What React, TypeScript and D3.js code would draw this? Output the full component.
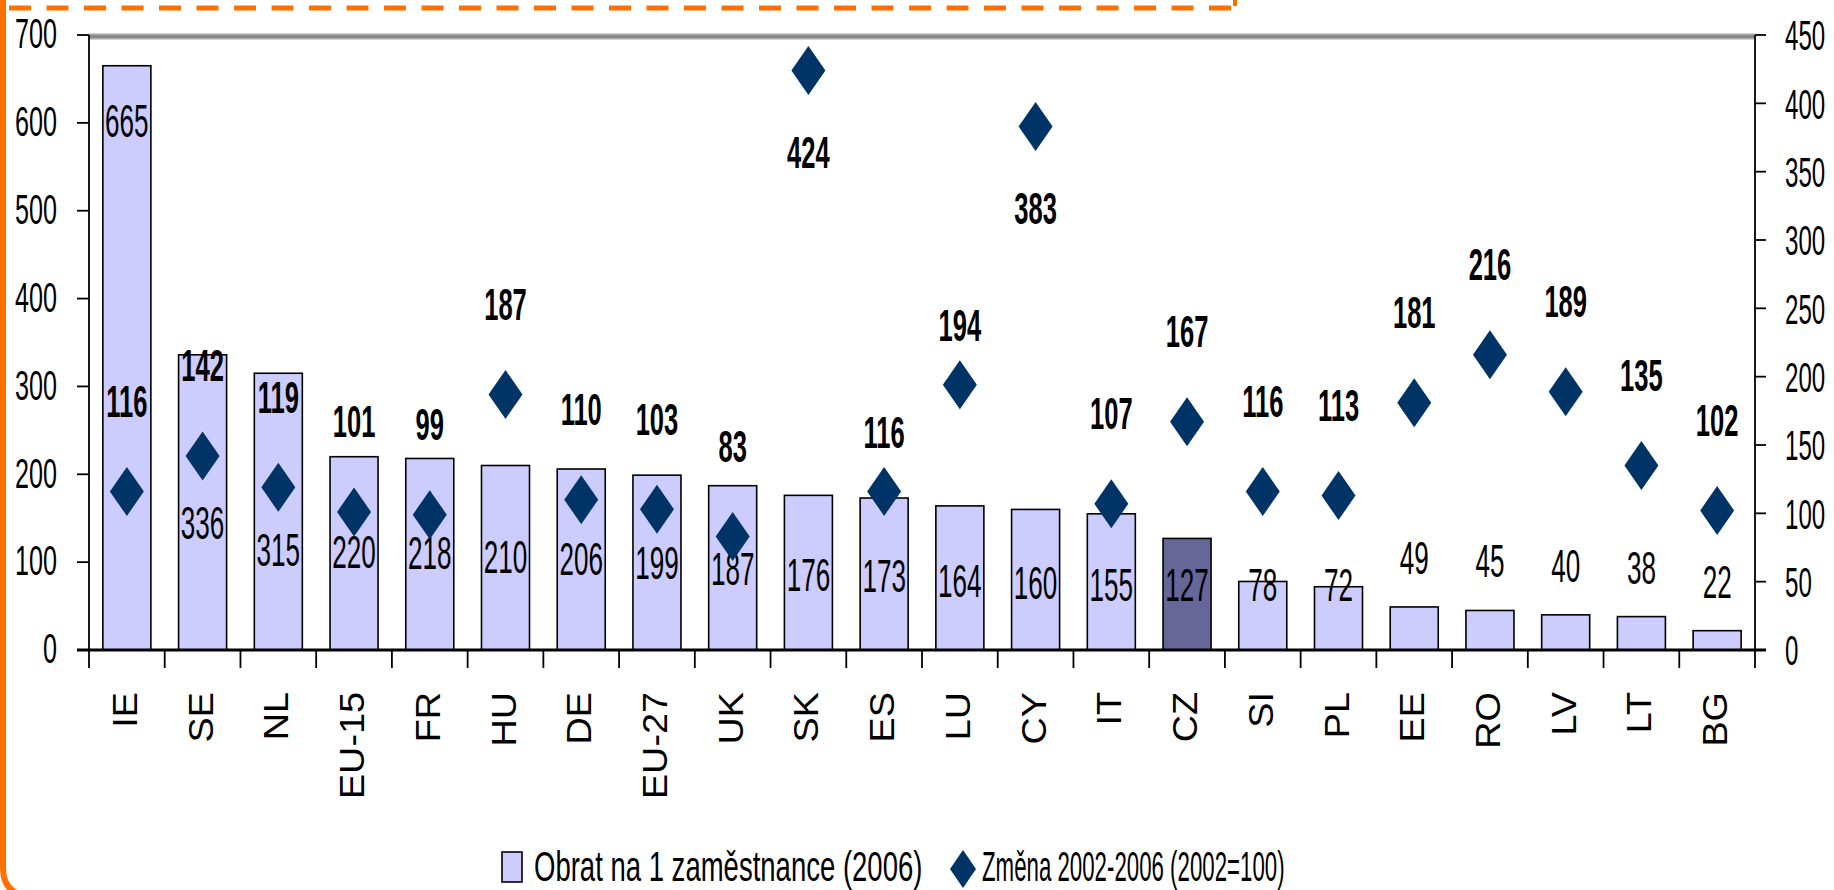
import React from "react";
import * as d3 from "d3";

const categories = ["IE","SE","NL","EU-15","FR","HU","DE","EU-27","UK","SK","ES","LU","CY","IT","CZ","SI","PL","EE","RO","LV","LT","BG"];
const turnover = [665,336,315,220,218,210,206,199,187,176,173,164,160,155,127,78,72,49,45,40,38,22];
const change = [116,142,119,101,99,187,110,103,83,424,116,194,383,107,167,116,113,181,216,189,135,102];
const leftTicks = [0,100,200,300,400,500,600,700];
const rightTicks = [0,50,100,150,200,250,300,350,400,450];
const highlight = "CZ";
const nearLabels = new Set(["ES","LU"]);
const legendLabels = ["Obrat na 1 zaměstnance (2006)", "Změna 2002-2006 (2002=100)"];

const W = 1834, H = 890;
const FONT = "'Liberation Sans', Arial, Helvetica, sans-serif";
const X0 = 89, X1 = 1755, Y0 = 650, YT = 35;

function SText({ x, y, text, size, sx, anchor = "middle", weight = "normal" }: any) {
  return (
    <text transform={`translate(${x},${y}) scale(${sx},1)`} textAnchor={anchor}
      dominantBaseline="central" fontFamily={FONT} fontSize={size} fontWeight={weight} fill="#000">
      {text}
    </text>
  );
}

export default function App() {
  const x = d3.scaleBand<string>().domain(categories).range([X0, X1]).padding(0);
  const yL = d3.scaleLinear().domain([0, 700]).range([Y0, YT]);
  const yR = d3.scaleLinear().domain([0, 450]).range([Y0, YT]);
  const bw = x.bandwidth() * 0.634;
  const cx = (c: string) => (x(c) as number) + x.bandwidth() / 2;
  const diamond = (w: number, h: number) => `M0,${-h / 2}L${w / 2},0L0,${h / 2}L${-w / 2},0Z`;

  const barLabelY = (v: number) => {
    if (v > 500) return yL(v) + 55;
    if (v < 60) return yL(v) - 49;
    if (v > 330) return yL(v) + 168;
    return yL(Math.max(74, Math.min(114, 0.6 * v - 20)));
  };

  return (
    <svg width={W} height={H} style={{ position: "absolute", left: 0, top: 0, background: "#fff" }}>
      <rect x={0} y={0} width={W} height={H} fill="#fff" />
      {/* orange frame */}
      <path d="M3,0 L3,868 Q3,892 26,896" fill="none" stroke="#FF7000" strokeWidth={6} />
      <line x1={9} x2={1236} y1={8} y2={8} stroke="#FF7000" strokeWidth={5} strokeDasharray="22,15.5" />
      <line x1={1235} x2={1235} y1={0} y2={6} stroke="#FF7000" strokeWidth={4} />

      {/* top plot border */}
      <line x1={X0} x2={X1} y1={36.5} y2={36.5} stroke="#d0d0d0" strokeWidth={7} />
      <line x1={X0} x2={X1} y1={36.5} y2={36.5} stroke="#888" strokeWidth={4} />

      {/* bars */}
      {categories.map((c, i) => (
        <rect key={c} x={cx(c) - bw / 2} y={yL(turnover[i])} width={bw} height={Y0 - yL(turnover[i])}
          fill={c === highlight ? "#666699" : "#CCCCFF"} stroke="#000" strokeWidth={1.6} />
      ))}

      {/* axes */}
      <line x1={X0} x2={X0} y1={YT} y2={Y0} stroke="#000" strokeWidth={1.8} />
      <line x1={X1} x2={X1} y1={YT} y2={Y0 + 18} stroke="#000" strokeWidth={1.8} />
      {leftTicks.map(t => (
        <g key={"l" + t}>
          <line x1={X0 - 12} x2={X0} y1={yL(t)} y2={yL(t)} stroke="#000" strokeWidth={1.8} />
          <SText x={57} y={yL(t) - 2} text={t} size={43} sx={0.585} anchor="end" />
        </g>
      ))}
      {rightTicks.map(t => (
        <g key={"r" + t}>
          <line x1={X1} x2={X1 + 11} y1={yR(t)} y2={yR(t)} stroke="#000" strokeWidth={1.8} />
          <SText x={1785} y={yR(t)} text={t} size={43} sx={0.56} anchor="start" />
        </g>
      ))}
      <line x1={X0 - 12} x2={X1 + 11} y1={Y0} y2={Y0} stroke="#000" strokeWidth={3} />
      {categories.map(c => (
        <line key={"t" + c} x1={x(c) as number} x2={x(c) as number} y1={Y0} y2={Y0 + 18} stroke="#000" strokeWidth={1.8} />
      ))}

      {/* category labels */}
      {categories.map(c => (
        <text key={"c" + c} transform={`translate(${cx(c) + 10},692) rotate(-90) scale(1.08,1)`}
          textAnchor="end" fontFamily={FONT} fontSize={35} fill="#000">{c}</text>
      ))}

      {/* bar labels */}
      {categories.map((c, i) => (
        <SText key={"bl" + c} x={cx(c)} y={barLabelY(turnover[i])} text={turnover[i]} size={46} sx={0.567} />
      ))}

      {/* diamonds */}
      {categories.map((c, i) => (
        <path key={"d" + c} d={diamond(34, 49)} transform={`translate(${cx(c)},${yR(change[i])})`} fill="#003366" />
      ))}
      {categories.map((c, i) => {
        const v = change[i];
        const dy = v > 350 ? 82 : nearLabels.has(c) ? -59 : -90;
        return <SText key={"dl" + c} x={cx(c)} y={yR(v) + dy} text={v} size={44} sx={0.58} weight="bold" />;
      })}

      {/* legend */}
      <rect x={502} y={852} width={20} height={30} fill="#CCCCFF" stroke="#000" strokeWidth={1.6} />
      <SText x={534} y={867} text={legendLabels[0]} size={42} sx={0.655} anchor="start" />
      <path d={diamond(26, 38)} transform="translate(963,869)" fill="#003366" />
      <SText x={982} y={867} text={legendLabels[1]} size={42} sx={0.53} anchor="start" />
    </svg>
  );
}
